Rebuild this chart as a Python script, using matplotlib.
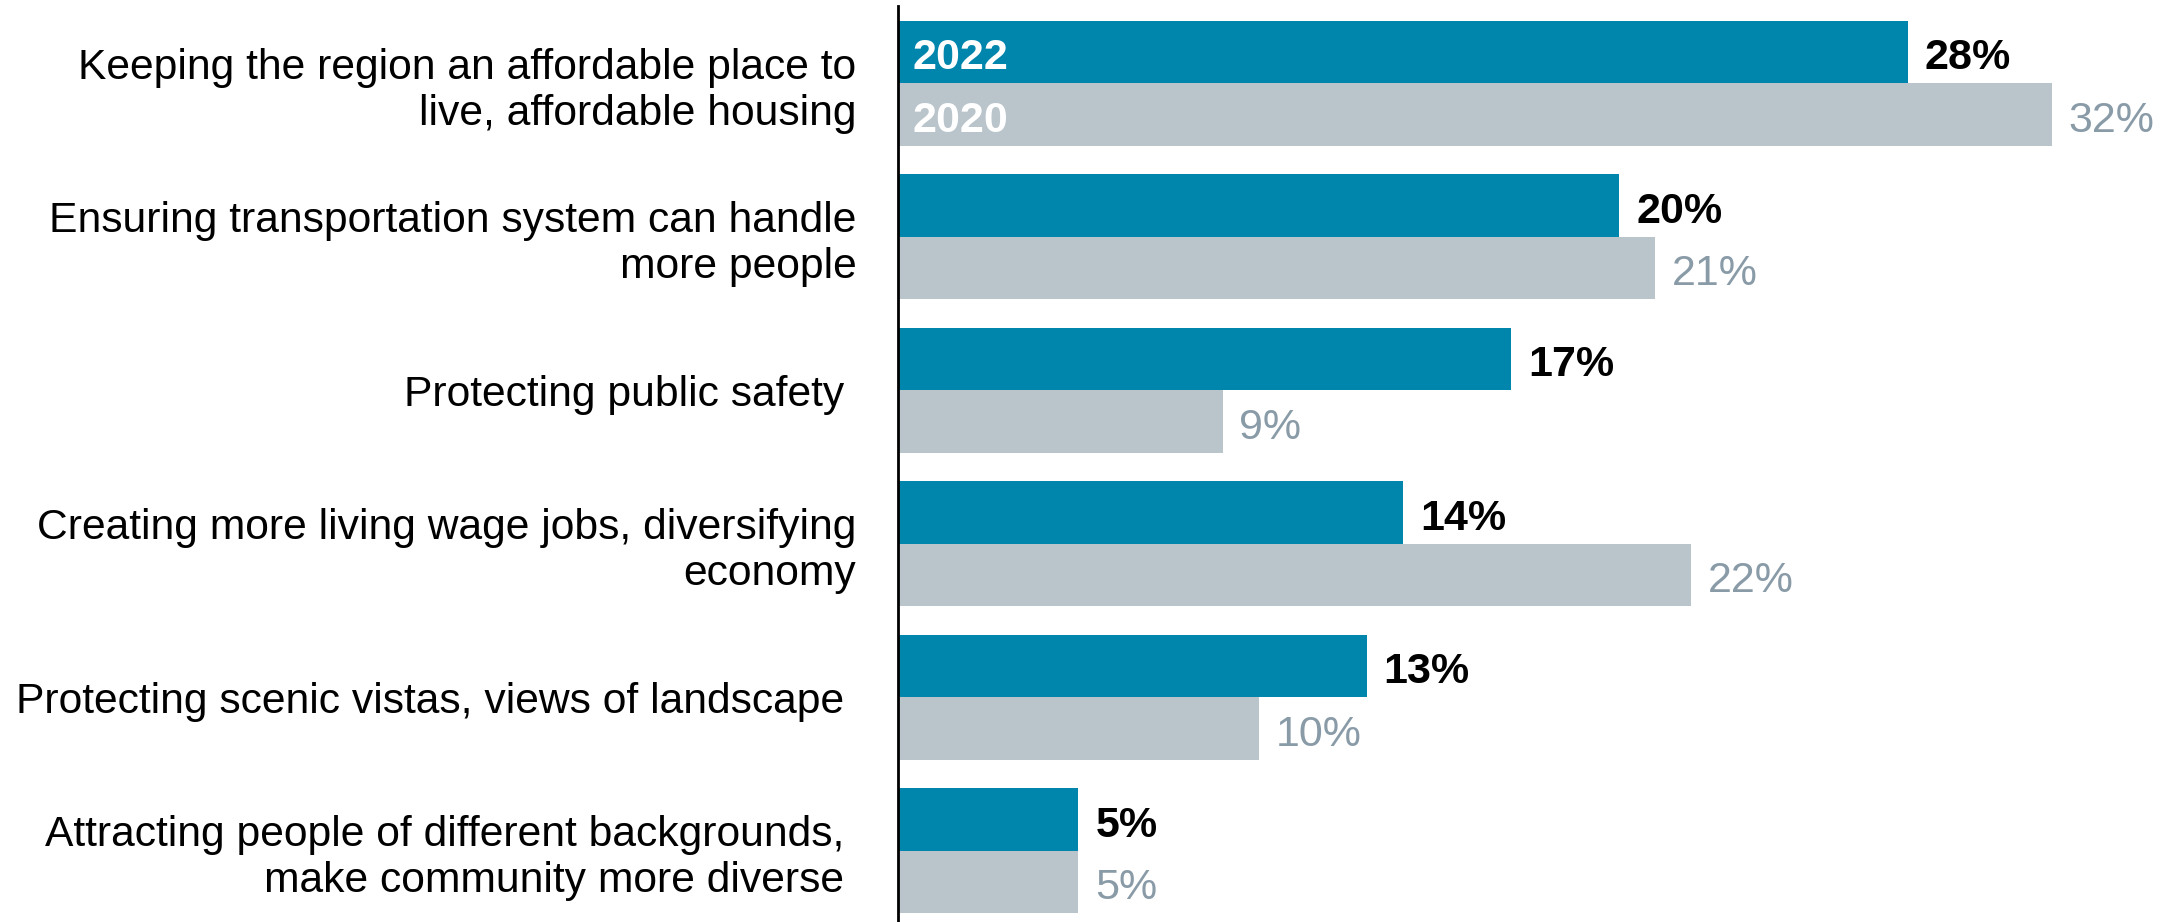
import matplotlib.pyplot as plt
import numpy as np

plt.rcParams['font.family'] = ['Liberation Sans', 'DejaVu Sans']

categories = [
    "Keeping the region an affordable place to\nlive, affordable housing",
    "Ensuring transportation system can handle\nmore people",
    "Protecting public safety ",
    "Creating more living wage jobs, diversifying\neconomy",
    "Protecting scenic vistas, views of landscape ",
    "Attracting people of different backgrounds, \nmake community more diverse ",
]
vals_2022 = [28, 20, 17, 14, 13, 5]
vals_2020 = [32, 21, 9, 22, 10, 5]
years = ["2022", "2020"]

teal = '#0086AD'
grey = '#BAC4CB'
grey_txt = '#8A9BA8'

fig = plt.figure(figsize=(21.77, 9.22), dpi=100)
ax = fig.add_axes([898 / 2177, 0, 1 - 898 / 2177, 1 - 6 / 922])

y = np.arange(len(categories))
h = 0.4075
ax.barh(y - h / 2, vals_2022, height=h, color=teal)
ax.barh(y + h / 2, vals_2020, height=h, color=grey)

ax.set_xlim(0, 35.47)
ax.set_ylim(5.464, -0.504)

fs = 31
pad = 0.47
dy = 0.04
for i in range(len(categories)):
    ax.text(vals_2022[i] + pad, i - h / 2 + dy, f"{vals_2022[i]}%", va='center', ha='left',
            fontsize=fs, fontweight='bold', color='black')
    ax.text(vals_2020[i] + pad, i + h / 2 + dy, f"{vals_2020[i]}%", va='center', ha='left',
            fontsize=fs, color=grey_txt)

ax.text(0.4, -h / 2 + dy, years[0], va='center', ha='left', fontsize=fs, fontweight='bold', color='white')
ax.text(0.4, h / 2 + dy, years[1], va='center', ha='left', fontsize=fs, fontweight='bold', color='white')

ax.set_yticks(y)
ax.set_yticklabels(categories, fontsize=30.7, linespacing=1.19)
ax.tick_params(axis='y', length=0, pad=30)
ax.set_xticks([])
for s in ['top', 'right', 'bottom']:
    ax.spines[s].set_visible(False)
ax.spines['left'].set_linewidth(2)
ax.spines['left'].set_color('black')

fig.savefig("out.png", dpi=100)
plt.close()
